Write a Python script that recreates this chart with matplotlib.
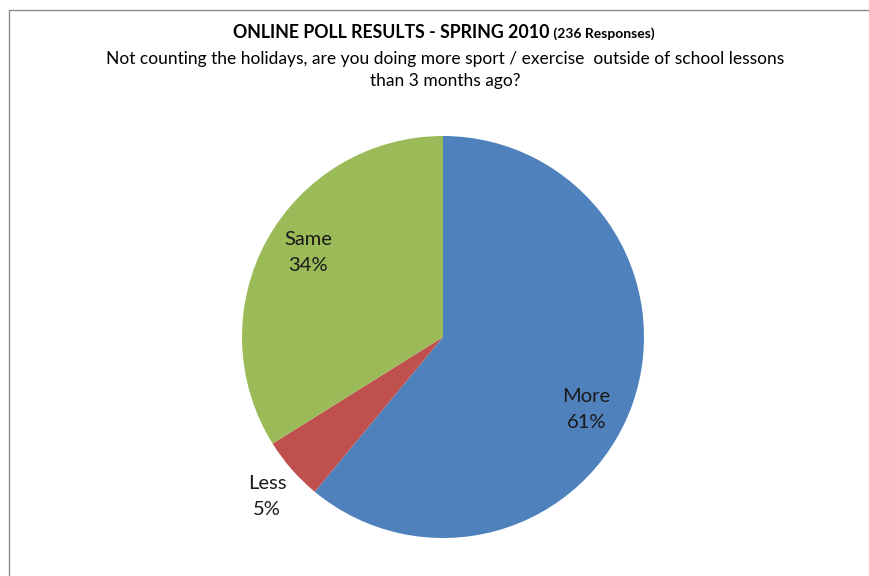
import matplotlib.pyplot as plt
from matplotlib.patches import Rectangle
import numpy as np

plt.rcParams['font.family'] = ['Lato', 'DejaVu Sans']

# poll answers, counted out of 236 responses
categories = ['More', 'Less', 'Same']
responses = [144, 12, 80]
colors = ['#4F81BD', '#C0504D', '#9BBB59']

title_main = 'ONLINE POLL RESULTS - SPRING 2010'
title_small = ' (236 Responses)'
subtitle = ('Not counting the holidays, are you doing more sport / exercise  outside of school lessons\n'
            'than 3 months ago?')

# label placement per slice: radial distance and angle nudge (degrees)
label_dist = [0.80, 1.18, 0.79]
label_nudge = [-7, 1, -3]

W, H = 869, 576
fig = plt.figure(figsize=(W / 100, H / 100), dpi=100)

# chart area frame, running off the right and bottom edges
fig.patches.append(Rectangle((8.5 / W, -0.1), 1.2, 1.1 - 9.5 / H,
                             transform=fig.transFigure, fill=False,
                             edgecolor='#8c8c8c', lw=1.0))

cx, cy, r = 443, 337, 201
ax = fig.add_axes([(cx - r) / W, (H - cy - r) / H, 2 * r / W, 2 * r / H])
wedges, _ = ax.pie(responses, colors=colors, startangle=90, counterclock=False,
                   radius=1.0, wedgeprops=dict(linewidth=0))
ax.set_xlim(-1, 1)
ax.set_ylim(-1, 1)
ax.set_aspect('equal')
ax.axis('off')

total = sum(responses)
for w, name, n, d, nudge in zip(wedges, categories, responses, label_dist, label_nudge):
    mid = np.deg2rad((w.theta1 + w.theta2) / 2 + nudge)
    pct = round(100 * n / total)
    ax.text(d * np.cos(mid), d * np.sin(mid), f'{name}\n{pct}%',
            ha='center', va='center', fontsize=14.5, color='#1a1a1a',
            linespacing=1.65)

# title: large bold part followed by small bold response count
t1 = fig.text(0, 1 - 33 / H, title_main, fontsize=12.8, fontweight='bold',
              ha='left', va='center', color='black')
t2 = fig.text(0, 1 - 34 / H, title_small, fontsize=10, fontweight='bold',
              ha='left', va='center', color='black')
fig.canvas.draw()
rend = fig.canvas.get_renderer()
w1 = t1.get_window_extent(rend).width
w2 = t2.get_window_extent(rend).width
x0 = 444 - (w1 + w2) / 2
t1.set_x(x0 / W)
t2.set_x((x0 + w1) / W)

fig.text(445 / W, 1 - 70 / H, subtitle, fontsize=12.5, ha='center', va='center',
         color='black', linespacing=1.5)

fig.savefig('out.png', dpi=100)
